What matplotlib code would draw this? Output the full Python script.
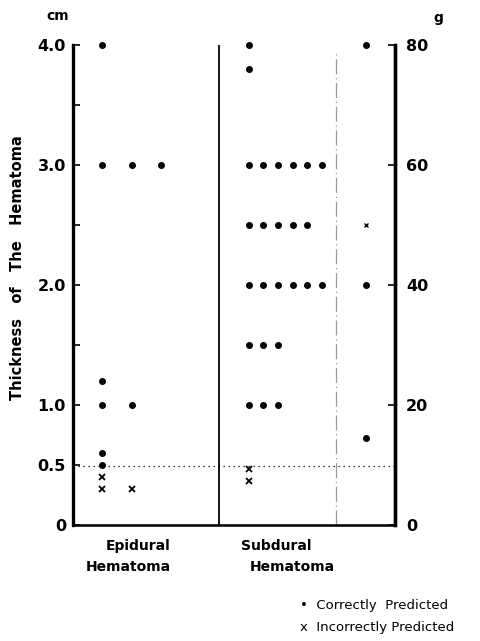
import matplotlib.pyplot as plt
import numpy as np

# epidural hematoma (cm), column index within the group
epi_ok_cm = [4.0, 3.0, 3.0, 3.0, 1.2, 1.0, 1.0, 0.6, 0.5]
epi_ok_col = [0, 0, 1, 2, 0, 0, 1, 0, 0]
epi_bad_cm = [0.4, 0.3, 0.3]
epi_bad_col = [0, 0, 1]

# subdural hematoma (cm)
sub_ok_cm = [4.0, 3.8] + [3.0] * 6 + [2.5] * 5 + [2.0] * 6 + [1.5] * 3 + [1.0] * 3
sub_ok_col = [0, 0] + list(range(6)) + list(range(5)) + list(range(6)) + list(range(3)) + list(range(3))
sub_bad_cm = [0.47, 0.37]
sub_bad_col = [0, 0]

# subdural hematoma, by weight (g)
wt_ok_g = [80, 40, 14.5]
wt_bad_g = [50]

left_ticks = [0, 0.5, 1.0, 2.0, 3.0, 4.0]
left_labels = ["0", "0.5", "1.0", "2.0", "3.0", "4.0"]
minor_ticks = [1.5, 2.5, 3.5]
right_ticks = [0, 20, 40, 60, 80]

fig = plt.figure(figsize=(4.81, 6.41), dpi=100)
ax = fig.add_axes([73 / 481, 116 / 641, 322 / 481, 480 / 641])
ax.set_xlim(0, 22)
ax.set_ylim(0, 4.0)

dot = dict(marker="o", color="black", markersize=4, linestyle="none", clip_on=False)
crs = dict(marker="x", color="black", markersize=4.5, markeredgewidth=1.3, linestyle="none", clip_on=False)

ax.plot(2 + 2 * np.array(epi_ok_col), epi_ok_cm, **dot)
ax.plot(2 + 2 * np.array(epi_bad_col), epi_bad_cm, **crs)
ax.plot(12 + np.array(sub_ok_col), sub_ok_cm, **dot)
ax.plot(12 + np.array(sub_bad_col), sub_bad_cm, **crs)
ax.plot([20] * len(wt_ok_g), np.array(wt_ok_g) / 20, **dot)
ax.plot([20] * len(wt_bad_g), np.array(wt_bad_g) / 20, marker="x", color="black",
        markersize=2.5, linestyle="none")

# separators
ax.plot([10, 10], [0, 4.0], color="black", linewidth=1.3)
ax.plot([18, 18], [0, 3.95], color="#999999", linewidth=0.9, linestyle=(0, (12, 3, 1, 3)))
ax.axhline(0.49, color="black", linewidth=0.9, linestyle=(0, (1, 3)))

ax.spines["top"].set_visible(False)
ax.spines["left"].set_linewidth(2.4)
ax.spines["right"].set_linewidth(2.4)
ax.spines["bottom"].set_linewidth(1.8)

ax.set_xticks([])
ax.set_yticks(left_ticks)
ax.set_yticklabels(left_labels, fontsize=11.5, fontweight="bold")
ax.set_yticks(minor_ticks, minor=True)
ax.tick_params(axis="y", which="both", direction="in", length=5, width=1.2, pad=5)

ax2 = ax.twinx()
ax2.set_ylim(0, 80)
ax2.set_yticks(right_ticks)
ax2.set_yticklabels([str(t) for t in right_ticks], fontsize=11.5, fontweight="bold")
ax2.tick_params(axis="y", direction="in", length=5, width=1.2, pad=8)
ax2.spines["top"].set_visible(False)
ax2.spines["right"].set_linewidth(2.4)

fig.text(58 / 481, 1 - 16 / 641, "cm", fontsize=10, fontweight="bold", ha="center", va="center")
fig.text(438 / 481, 1 - 18 / 641, "g", fontsize=10, fontweight="bold", ha="center", va="center")
fig.text(18 / 481, 1 - 268 / 641, "Thickness   of   The   Hematoma", rotation=90,
         fontsize=10.5, fontweight="bold", ha="center", va="center")

fig.text(138 / 481, 1 - 546 / 641, "Epidural", fontsize=10, fontweight="bold", ha="center", va="center")
fig.text(128 / 481, 1 - 567 / 641, "Hematoma", fontsize=10, fontweight="bold", ha="center", va="center")
fig.text(276 / 481, 1 - 546 / 641, "Subdural", fontsize=10, fontweight="bold", ha="center", va="center")
fig.text(292 / 481, 1 - 567 / 641, "Hematoma", fontsize=10, fontweight="bold", ha="center", va="center")

fig.text(300 / 481, 1 - 605 / 641, "\u2022  Correctly  Predicted", fontsize=9.5, ha="left", va="center")
fig.text(300 / 481, 1 - 628 / 641, "x  Incorrectly Predicted", fontsize=9.5, ha="left", va="center")

fig.savefig("out.png", dpi=100)
